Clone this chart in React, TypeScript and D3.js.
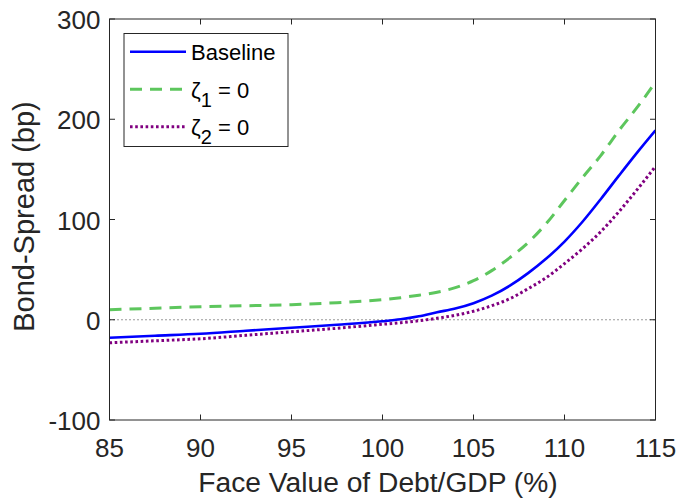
import React from "react";
import * as d3 from "d3";

const debt = [85, 87.5, 90, 92.5, 95, 97.5, 100, 101, 102, 103, 104, 105, 106, 107, 108, 109, 110, 111, 112, 113, 114, 115];
const baseline = [-18, -16, -14, -11, -8, -5, -1.5, 0.5, 3.5, 7.5, 11.2, 16.5, 24, 34, 46.5, 61, 78, 98, 120.5, 144, 167, 189];
const zeta1Zero = [10, 11.5, 13, 14, 15, 17, 20, 22, 24.5, 27.5, 32, 39, 49, 62, 77, 96, 119, 142, 164, 189, 212, 237];
const zeta2Zero = [-23, -21, -19, -15.5, -12, -8.5, -4.5, -3, -1, 1.5, 4.5, 8.5, 14, 21, 31, 42, 56, 71, 88, 108, 130, 153];
const xTicks = [85, 90, 95, 100, 105, 110, 115];
const yTicks = [-100, 0, 100, 200, 300];

const W = 678, H = 498;
const L = 109.5, R = 655.5, T = 19, B = 420;
const FONT = "'Liberation Sans', Arial, Helvetica, sans-serif";
const AX = "#262626";

export default function App() {
  const x = d3.scaleLinear().domain([85, 115]).range([L, R]);
  const y = d3.scaleLinear().domain([-100, 300]).range([B, T]);
  const line = (vals: number[]) =>
    d3.line<number>().x((_, i) => x(debt[i])).y((d) => y(d)).curve(d3.curveMonotoneX)(vals) || "";
  const series = [
    { name: "Baseline", vals: baseline, color: "#0000ff", width: 2.6, dash: undefined as string | undefined },
    { name: "z1", vals: zeta1Zero, color: "#5dc65d", width: 3, dash: "12,8" },
    { name: "z2", vals: zeta2Zero, color: "#800080", width: 3, dash: "2.6,2.6" },
  ];
  const tick = 5.5;
  return (
    <svg width={W} height={H} style={{ position: "absolute", left: 0, top: 0, background: "#fff" }} fontFamily={FONT}>
      <rect x={0} y={0} width={W} height={H} fill="#fff" />
      <line x1={x(85)} x2={x(115)} y1={y(0)} y2={y(0)} stroke="#333" strokeWidth={1} strokeDasharray="1,3" />
      <clipPath id="clip"><rect x={L} y={T} width={R - L} height={B - T} /></clipPath>
      <g clipPath="url(#clip)">
        {series.map((s) => (
          <path key={s.name} d={line(s.vals)} fill="none" stroke={s.color} strokeWidth={s.width} strokeDasharray={s.dash} />
        ))}
      </g>
      <rect x={L} y={T} width={R - L} height={B - T} fill="none" stroke={AX} strokeWidth={1} />
      {xTicks.map((t) => (
        <g key={"x" + t}>
          <line x1={x(t)} x2={x(t)} y1={B} y2={B - tick} stroke={AX} />
          <line x1={x(t)} x2={x(t)} y1={T} y2={T + tick} stroke={AX} />
          <text x={x(t)} y={B + 36.5} textAnchor="middle" fontSize={26} fill={AX}>{t}</text>
        </g>
      ))}
      {yTicks.map((t) => (
        <g key={"y" + t}>
          <line x1={L} x2={L + tick} y1={y(t)} y2={y(t)} stroke={AX} />
          <line x1={R} x2={R - tick} y1={y(t)} y2={y(t)} stroke={AX} />
          <text x={L - 9} y={y(t) + 10} textAnchor="end" fontSize={26} fill={AX}>{t}</text>
        </g>
      ))}
      <text x={378} y={492} textAnchor="middle" fontSize={28.2} fill={AX}>Face Value of Debt/GDP (%)</text>
      <text transform={`translate(34,216.5) rotate(-90)`} textAnchor="middle" fontSize={29} fill={AX}>Bond-Spread (bp)</text>
      <g>
        <rect x={124} y={33.5} width={164} height={113} fill="#fff" stroke={AX} strokeWidth={1} />
        {series.map((s, i) => {
          const cy = 51.7 + i * 37.5;
          return (
            <g key={"lg" + s.name}>
              <line x1={130} x2={186} y1={cy} y2={cy} stroke={s.color} strokeWidth={s.width} strokeDasharray={s.dash} />
              {i === 0 ? (
                <text x={191} y={cy + 8.3} fontSize={22} fill="#000">Baseline</text>
              ) : (
                <text x={191} y={cy + 8.3} fontSize={22} fill="#000">
                  ζ<tspan fontSize={20} dy={9}>{i}</tspan><tspan dy={-9}> = 0</tspan>
                </text>
              )}
            </g>
          );
        })}
      </g>
    </svg>
  );
}
